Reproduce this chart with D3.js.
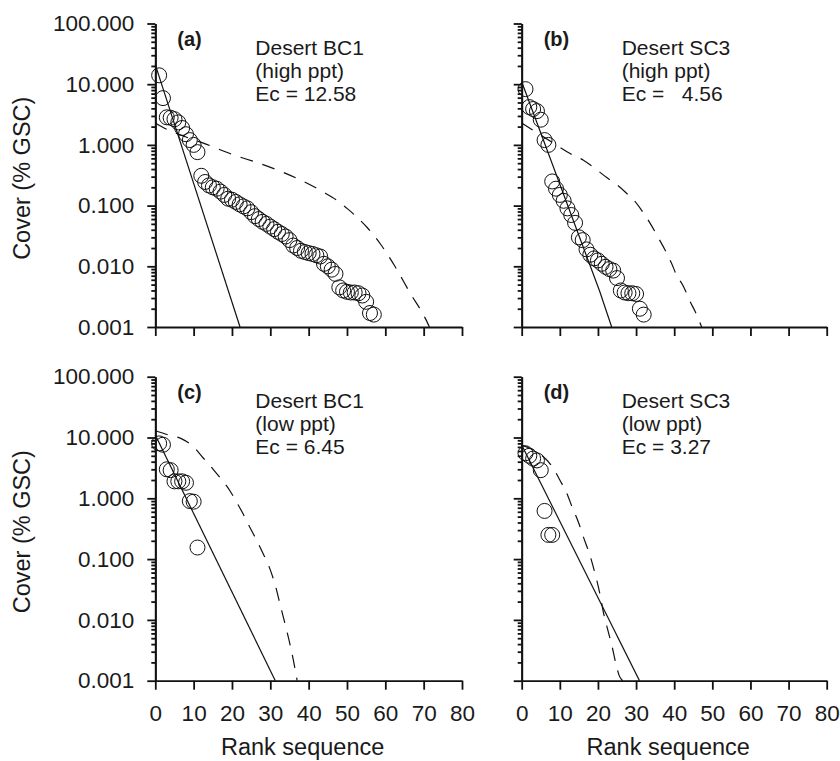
<!DOCTYPE html>
<html>
<head>
<meta charset="utf-8">
<script src="https://cdn.jsdelivr.net/npm/d3@7"></script>
<style>
  body { margin: 0; background: #fff; }
  text { font-family: "Liberation Sans", Arial, sans-serif; fill: #1a1a1a; }
</style>
</head>
<body>
<script>
// Rank / cover data for the four desert plots
var coverA = [14, 5.9, 2.85, 2.8, 2.65, 2.35, 1.9, 1.5, 1.2, 1.0, 0.76,
  0.31, 0.245, 0.215, 0.20, 0.19, 0.17, 0.15, 0.13, 0.125, 0.115, 0.105,
  0.097, 0.090, 0.078, 0.067, 0.060, 0.054, 0.050, 0.045, 0.041, 0.037,
  0.034, 0.031, 0.027, 0.022, 0.020, 0.018, 0.0172, 0.0165, 0.016, 0.0152,
  0.0145, 0.011, 0.0100, 0.0088, 0.0075, 0.0045, 0.0040, 0.0038, 0.0037,
  0.0037, 0.0036, 0.0033, 0.0026, 0.0017, 0.0016];
var coverB = [8.3, 4.2, 3.9, 3.6, 2.6, 1.2, 1.0, 0.25, 0.19, 0.15, 0.12,
  0.09, 0.07, 0.052, 0.030, 0.027, 0.019, 0.0155, 0.0135, 0.0125, 0.011,
  0.0098, 0.0090, 0.0085, 0.0064, 0.0040, 0.0037, 0.0036, 0.0036, 0.0035,
  0.0020, 0.0016];
var coverC = [8.0, 7.6, 3.0, 2.9, 1.9, 1.9, 1.9, 1.8, 0.9, 0.88, 0.155];
var coverD = [5.5, 5.0, 4.5, 4.2, 2.9, 0.62, 0.25, 0.25];

// solid lines (geometric series fit), [rank, cover]
var geoA = [[0, 21], [22.1, 0.001]];
var geoB = [[0, 11], [20.5, 0.0038], [23.6, 0.001]];
var geoC = [[0, 11], [31.3, 0.001]];
var geoD = [[0, 7.5], [30.9, 0.001]];

// dashed lines, [rank, cover]
var dashA = [[0, 2.3], [3, 1.8], [8, 1.35], [13.4, 1.02], [20, 0.70],
  [27, 0.50], [34, 0.34], [41, 0.21], [44, 0.165], [47.4, 0.122],
  [50, 0.09], [52, 0.07], [55.2, 0.044], [59, 0.022], [62.5, 0.010],
  [66.5, 0.0036], [70.4, 0.0014], [71.5, 0.001]];
var dashB = [[0, 2.3], [3.5, 1.66], [8, 1.1], [12.7, 0.72], [16.2, 0.56],
  [19, 0.42], [22.3, 0.29], [25, 0.22], [27.5, 0.16], [29.7, 0.117],
  [31.9, 0.076], [33.7, 0.051], [35.9, 0.029], [37.6, 0.0186],
  [39.3, 0.0112], [40.6, 0.0072], [42.4, 0.0047], [44.2, 0.0026],
  [45.5, 0.0018], [47.2, 0.001]];
var dashC = [[0, 12.9], [3.4, 11], [6.9, 9.5], [9.9, 7.1], [12.5, 4.6],
  [15.1, 3.0], [17, 2.14], [19.5, 1.32], [21, 0.91], [23, 0.54],
  [24.3, 0.37], [26.5, 0.20], [28.2, 0.12], [29.5, 0.08], [31.3, 0.037],
  [32.6, 0.0174], [33.9, 0.0083], [35.2, 0.0038], [36, 0.0022],
  [37, 0.001]];
var dashD = [[0, 7.5], [2.2, 6.6], [5.1, 5.2], [8.3, 3.1], [10, 2.0],
  [12.2, 1.06], [13.1, 0.75], [14.9, 0.40], [16.2, 0.23], [18, 0.11],
  [19.2, 0.059], [20.5, 0.027], [21.4, 0.0136], [22.7, 0.0064],
  [23.6, 0.0039], [24.9, 0.0017], [25.6, 0.0012], [26.5, 0.001]];

var panelTags = ["(a)", "(b)", "(c)", "(d)"];
var siteNames = ["Desert BC1", "Desert SC3", "Desert BC1", "Desert SC3"];
var pptNames = ["(high ppt)", "(high ppt)", "(low ppt)", "(low ppt)"];
var ecLabels = ["Ec = 12.58", "Ec =   4.56", "Ec = 6.45", "Ec = 3.27"];

var xTicks = [0, 10, 20, 30, 40, 50, 60, 70, 80];
var yTicks = [0.001, 0.01, 0.1, 1, 10, 100];

var W = 840;
var H = 761;

function main() {
  var svg = d3.select("body").append("svg")
    .attr("width", W)
    .attr("height", H);

  var boxes = [
    {x0: 155.3, x1: 462, top: 23.5, bottom: 327},
    {x0: 521.7, x1: 826.7, top: 23.5, bottom: 327},
    {x0: 155.3, x1: 462, top: 376.7, bottom: 680.7},
    {x0: 521.7, x1: 826.7, top: 376.7, bottom: 680.7}
  ];
  var covers = [coverA, coverB, coverC, coverD];
  var geos = [geoA, geoB, geoC, geoD];
  var dashes = [dashA, dashB, dashC, dashD];

  for (var i = 0; i < 4; i++) {
    drawPanel(svg, boxes[i], i, covers[i], geos[i], dashes[i]);
  }
}

function drawPanel(svg, b, i, cover, geo, dash) {
  var xScale = d3.scaleLinear().domain([0, 80]).range([b.x0, b.x1]);
  var yScale = d3.scaleLog().domain([0.001, 100]).range([b.bottom, b.top]);
  var showX = i >= 2;
  var showY = i % 2 == 0;

  // minor log ticks
  var minor = [];
  yTicks.slice(0, 5).forEach(function(d) {
    for (var k = 2; k < 10; k++) minor.push(d * k);
  });
  svg.append("g")
    .attr("class", "minor")
    .attr("transform", "translate(" + b.x0 + ",0)")
    .call(d3.axisLeft(yScale).tickValues(minor).tickSize(4)
      .tickSizeOuter(0).tickFormat(""));

  var yAxis = d3.axisLeft(yScale).tickValues(yTicks).tickSize(8)
    .tickSizeOuter(0).tickPadding(13)
    .tickFormat(showY ? d3.format(".3f") : "");
  svg.append("g")
    .attr("class", "y axis")
    .attr("transform", "translate(" + b.x0 + ",0)")
    .call(yAxis);

  var xAxis = d3.axisBottom(xScale).tickValues(xTicks).tickSize(9)
    .tickSizeOuter(0).tickPadding(15)
    .tickFormat(showX ? d3.format("d") : "");
  svg.append("g")
    .attr("class", "x axis")
    .attr("transform", "translate(0," + b.bottom + ")")
    .call(xAxis);

  svg.selectAll(".axis path, .axis line, .minor path, .minor line")
    .attr("stroke", "#111")
    .attr("stroke-width", 1.8);
  svg.selectAll(".axis text")
    .attr("font-size", 22.5)
    .attr("fill", "#1a1a1a");

  var line = d3.line()
    .x(function(d) { return xScale(d[0]); })
    .y(function(d) { return yScale(d[1]); });

  svg.append("path")
    .datum(geo)
    .attr("d", line)
    .attr("fill", "none")
    .attr("stroke", "#111")
    .attr("stroke-width", 1.2);

  svg.append("path")
    .datum(dash)
    .attr("d", line.curve(d3.curveMonotoneX))
    .attr("fill", "none")
    .attr("stroke", "#111")
    .attr("stroke-width", 1.2)
    .attr("stroke-dasharray", "13,10");

  svg.append("g").selectAll("circle")
    .data(cover)
    .enter()
    .append("circle")
    .attr("cx", function(d, j) { return xScale(j + 1); })
    .attr("cy", function(d) { return yScale(d); })
    .attr("r", 7.5)
    .attr("fill", "none")
    .attr("stroke", "#111")
    .attr("stroke-width", 1);

  // panel text
  svg.append("text")
    .attr("x", b.x0 + 22)
    .attr("y", b.top + 22)
    .attr("font-size", 20)
    .attr("font-weight", "bold")
    .text(panelTags[i]);

  var tx = b.x0 + 100;
  var lines = [siteNames[i], pptNames[i], ecLabels[i]];
  for (var k = 0; k < 3; k++) {
    svg.append("text")
      .attr("x", tx)
      .attr("y", b.top + 31 + k * 23)
      .attr("font-size", 21)
      .style("white-space", "pre")
      .text(lines[k]);
  }

  if (showY) {
    var cy = (b.top + b.bottom) / 2 + 3;
    svg.append("text")
      .attr("transform", "translate(30," + cy + ") rotate(-90)")
      .attr("text-anchor", "middle")
      .attr("font-size", 23.5)
      .text("Cover (% GSC)");
  }
  if (showX) {
    svg.append("text")
      .attr("x", (b.x0 + b.x1) / 2 - 6)
      .attr("y", 755)
      .attr("text-anchor", "middle")
      .attr("font-size", 23.5)
      .text("Rank sequence");
  }
}

main();
</script>
</body>
</html>
